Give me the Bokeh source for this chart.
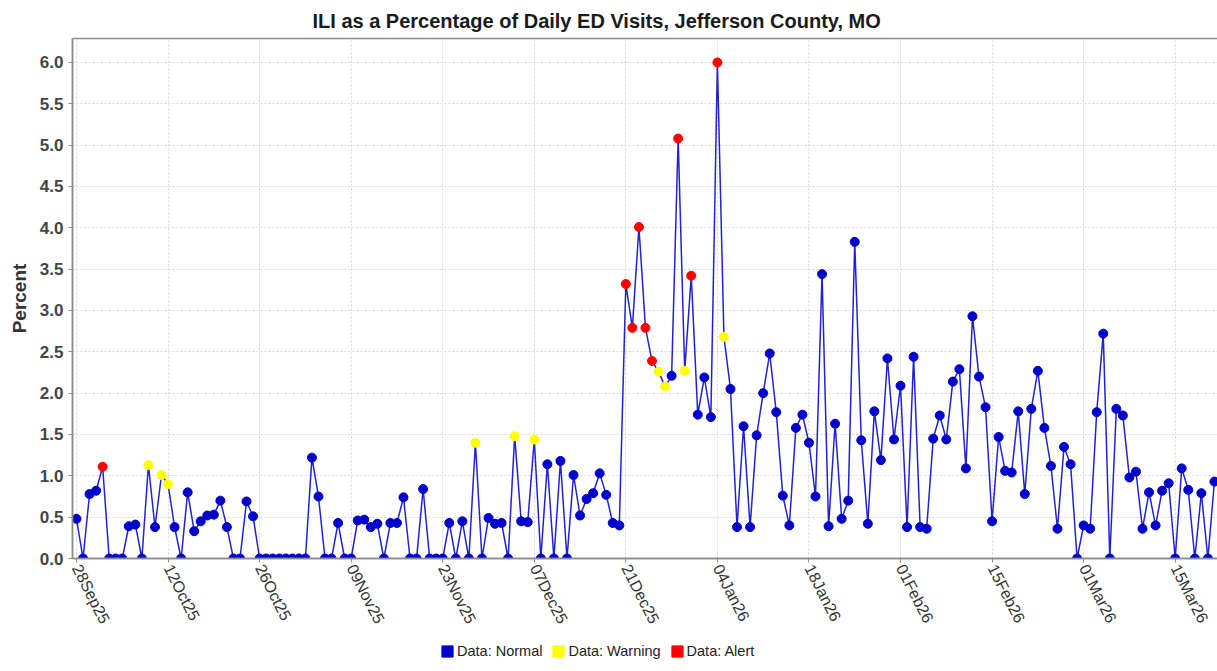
import pandas as pd
from bokeh.plotting import figure
from bokeh.layouts import column
from bokeh.models import (ColumnDataSource, Range1d, LinearAxis, FixedTicker,
                          NumeralTickFormatter, Grid, Legend, LegendItem,
                          CDSView, GroupFilter)
from bokeh.embed import file_html
from bokeh.resources import INLINE

# ---------------- data ----------------
start_date = "2025-09-28"

ili_pct = [
    0.48, 0.00, 0.78, 0.82, 1.11, 0.00, 0.00, 0.00, 0.39, 0.41,
    0.00, 1.13, 0.38, 1.01, 0.90, 0.38, 0.00, 0.80, 0.33, 0.45,
    0.52, 0.53, 0.70, 0.38, 0.00, 0.00, 0.69, 0.51, 0.00, 0.00,
    0.00, 0.00, 0.00, 0.00, 0.00, 0.00, 1.22, 0.75, 0.00, 0.00,
    0.43, 0.00, 0.00, 0.46, 0.47, 0.38, 0.42, 0.00, 0.43, 0.43,
    0.74, 0.00, 0.00, 0.84, 0.00, 0.00, 0.00, 0.43, 0.00, 0.45,
    0.00, 1.40, 0.00, 0.49, 0.42, 0.43, 0.00, 1.48, 0.45, 0.44,
    1.44, 0.00, 1.14, 0.00, 1.18, 0.00, 1.01, 0.52, 0.72, 0.79,
    1.03, 0.77, 0.43, 0.40, 3.32, 2.79, 4.01, 2.79, 2.39, 2.26,
    2.08, 2.21, 5.08, 2.27, 3.42, 1.74, 2.19, 1.71, 6.00, 2.68,
    2.05, 0.38, 1.60, 0.38, 1.49, 2.00, 2.48, 1.77, 0.76, 0.40,
    1.58, 1.74, 1.40, 0.75, 3.44, 0.39, 1.63, 0.48, 0.70, 3.83,
    1.43, 0.42, 1.78, 1.19, 2.42, 1.44, 2.09, 0.38, 2.44, 0.38,
    0.36, 1.45, 1.73, 1.44, 2.14, 2.29, 1.09, 2.93, 2.20, 1.83,
    0.45, 1.47, 1.06, 1.04, 1.78, 0.78, 1.81, 2.27, 1.58, 1.12,
    0.36, 1.35, 1.14, 0.00, 0.40, 0.36, 1.77, 2.72, 0.00, 1.81,
    1.73, 0.98, 1.05, 0.36, 0.80, 0.40, 0.82, 0.91, 0.00, 1.09,
    0.83, 0.00, 0.79, 0.00, 0.93,
]

alert_days = [4, 84, 85, 86, 87, 88, 92, 94, 98]
warning_days = [11, 13, 14, 61, 67, 70, 89, 90, 93, 99]

x_tick_labels = ["28Sep25", "12Oct25", "26Oct25", "09Nov25", "23Nov25",
                 "07Dec25", "21Dec25", "04Jan26", "18Jan26", "01Feb26",
                 "15Feb26", "01Mar26", "15Mar26"]

y_ticks = [0.0, 0.5, 1.0, 1.5, 2.0, 2.5, 3.0, 3.5, 4.0, 4.5, 5.0, 5.5, 6.0]

status_names = ["Normal", "Warning", "Alert"]
status_colors = ["#0000CC", "#FFFF00", "#FF0000"]

# ---------------- derived ----------------
n = len(ili_pct)
dates = pd.date_range(start_date, periods=n, freq="D")
day = list(range(n))
status = ["Normal"] * n
for d in warning_days:
    status[d] = "Warning"
for d in alert_days:
    status[d] = "Alert"

date_labels = [d.strftime("%d%b%y") for d in dates]
x_tick_pos = [date_labels.index(lbl) for lbl in x_tick_labels]

src = ColumnDataSource(dict(day=day, pct=ili_pct, status=status))

FONT = "Liberation Sans"
FRAME_COL = "#8c8c8c"

p = figure(width=1217, height=641, output_backend="svg", toolbar_location=None,
           x_axis_type=None, y_axis_type=None,
           x_range=Range1d(-0.61, 174.47), y_range=Range1d(0, 6.29),
           min_border_left=72, min_border_right=0, min_border_top=38,
           min_border_bottom=83)
p.outline_line_color = None
p.background_fill_color = "white"
p.border_fill_color = "white"

p.title.text = "ILI as a Percentage of Daily ED Visits, Jefferson County, MO"
p.title.align = "left"
p.title.offset = 240
p.title.standoff = 14
p.title.text_font = FONT
p.title.text_font_size = "20px"
p.title.text_font_style = "bold"
p.title.text_color = "#1a1a1a"


def gap_axis(size):
    return LinearAxis(ticker=FixedTicker(ticks=[], minor_ticks=[]),
                      major_tick_out=size, major_tick_in=0,
                      minor_tick_out=0, minor_tick_in=0,
                      major_label_standoff=0,
                      axis_line_color=FRAME_COL, axis_line_width=1.5,
                      major_tick_line_color=None, minor_tick_line_color=None)


# left: inner gap (plot outline) + real y axis
p.add_layout(gap_axis(7), "left")
ya = LinearAxis(ticker=FixedTicker(ticks=y_ticks),
                formatter=NumeralTickFormatter(format="0.0"),
                axis_label="Percent",
                axis_line_color=FRAME_COL, axis_line_width=1.5,
                major_tick_line_color=FRAME_COL, major_tick_out=4, major_tick_in=0,
                minor_tick_line_color=None,
                major_label_text_font=FONT, major_label_text_font_size="17px",
                major_label_text_font_style="bold", major_label_text_color="#444444",
                major_label_standoff=5,
                axis_label_text_font=FONT, axis_label_text_font_size="19px",
                axis_label_text_font_style="bold", axis_label_text_color="#333333",
                axis_label_standoff=7)
p.add_layout(ya, "left")

# bottom: inner gap (plot outline) + real x axis
p.add_layout(gap_axis(8), "below")
xa = LinearAxis(ticker=FixedTicker(ticks=x_tick_pos),
                major_label_overrides={pos: lbl for pos, lbl in zip(x_tick_pos, x_tick_labels)},
                major_label_orientation=-1.1,
                axis_line_color=FRAME_COL, axis_line_width=1.5,
                major_tick_line_color=FRAME_COL, major_tick_out=4, major_tick_in=0,
                minor_tick_line_color=None,
                major_label_text_font=FONT, major_label_text_font_size="16px",
                major_label_text_color="#333333", major_label_standoff=3)
p.add_layout(xa, "below")

# top outline
p.add_layout(gap_axis(0), "above")

# grids
p.add_layout(Grid(dimension=0, ticker=FixedTicker(ticks=x_tick_pos),
                  grid_line_color="#d6d6d6", grid_line_dash="2 2"))
p.add_layout(Grid(dimension=1, ticker=FixedTicker(ticks=y_ticks),
                  grid_line_color="#d6d6d6", grid_line_dash="2 2"))

# series
p.line("day", "pct", source=src, line_color="#2222D4", line_width=1.5)
for name, col in zip(status_names, status_colors):
    view = CDSView(filter=GroupFilter(column_name="status", group=name))
    p.scatter("day", "pct", source=src, view=view, size=9,
              fill_color=col, line_color=col)

# ---------------- legend strip ----------------
lg = figure(width=1217, height=30, output_backend="svg", toolbar_location=None,
            x_axis_type=None, y_axis_type=None,
            x_range=Range1d(0, 1), y_range=Range1d(0, 1),
            min_border=0)
lg.outline_line_color = None
lg.background_fill_color = "white"
lg.border_fill_color = "white"

nan = float("nan")
legend_items = []
for name, col in zip(status_names, status_colors):
    # placeholder (NaN) swatch renderer: draws nothing in the plot, only the key
    swatch = lg.quad(left=[nan], right=[nan], top=[nan], bottom=[nan],
                     fill_color=col, line_color=col)
    legend_items.append(LegendItem(label="Data: " + name, renderers=[swatch]))

legend = Legend(items=legend_items, orientation="horizontal",
                location=(368, 12), border_line_color=None,
                background_fill_alpha=0, padding=0, margin=0, spacing=9,
                label_standoff=3, glyph_width=14, glyph_height=14,
                label_height=14,
                label_text_font=FONT, label_text_font_size="14.5px",
                label_text_color="#222222")
lg.add_layout(legend)

layout = column(p, lg, spacing=0)
open("out.html", "w").write(file_html(layout, INLINE))
